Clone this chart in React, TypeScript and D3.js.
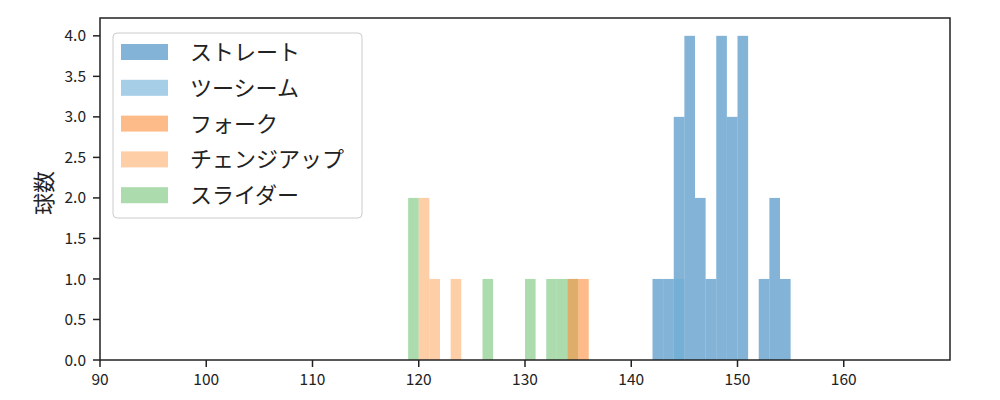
import React from "react";
import * as d3 from "d3";

const seriesNames = ["ストレート", "ツーシーム", "フォーク", "チェンジアップ", "スライダー"];
const seriesColors = ["#3182bd", "#6baed6", "#fd8d3c", "#fdae6b", "#74c476"];

// bin start values (bin width 1) and counts per series
const straightStarts = [142, 143, 144, 145, 146, 147, 148, 149, 150, 152, 153, 154];
const straightCounts = [1, 1, 3, 4, 2, 1, 4, 3, 4, 1, 2, 1];
const twoSeamStarts = [144];
const twoSeamCounts = [1];
const forkStarts = [134, 135];
const forkCounts = [1, 1];
const changeupStarts = [120, 121, 123];
const changeupCounts = [2, 1, 1];
const sliderStarts = [119, 126, 130, 132, 133, 134];
const sliderCounts = [2, 1, 1, 1, 1, 1];

const BIN_WIDTH = 1;
const xTicks = [90, 100, 110, 120, 130, 140, 150, 160];
const yTicks = [0, 0.5, 1, 1.5, 2, 2.5, 3, 3.5, 4];

const W = 1000, H = 400;
const M = { left: 100, right: 950, top: 18, bottom: 360 };
const FONT = "'Noto Sans CJK JP', 'Noto Sans', sans-serif";
const TICK = 7;

export default function App() {
  const x = d3.scaleLinear().domain([90, 170]).range([M.left, M.right]);
  const y = d3.scaleLinear().domain([0, 4.22]).range([M.bottom, M.top]);

  const series = [
    { idx: 0, starts: straightStarts, counts: straightCounts },
    { idx: 1, starts: twoSeamStarts, counts: twoSeamCounts },
    { idx: 4, starts: sliderStarts, counts: sliderCounts },
    { idx: 3, starts: changeupStarts, counts: changeupCounts },
    { idx: 2, starts: forkStarts, counts: forkCounts },
  ];

  const legX = 113, legY = 33, legW = 249, legH = 185;
  const rowH = 35.8;

  return (
    <svg width={W} height={H} style={{ position: "absolute", left: 0, top: 0, background: "#fff" }}>
      <rect x={0} y={0} width={W} height={H} fill="#fff" />
      {series.map((s) =>
        s.starts.map((st, i) => (
          <rect
            key={`${s.idx}-${i}`}
            x={x(st)}
            y={y(s.counts[i])}
            width={x(st + BIN_WIDTH) - x(st)}
            height={y(0) - y(s.counts[i])}
            fill={seriesColors[s.idx]}
            fillOpacity={0.6}
          />
        ))
      )}
      {/* axes frame */}
      <rect
        x={M.left}
        y={M.top}
        width={M.right - M.left}
        height={M.bottom - M.top}
        fill="none"
        stroke="#222"
        strokeWidth={1.5}
      />
      {xTicks.map((t) => (
        <g key={`xt${t}`}>
          <line x1={x(t)} x2={x(t)} y1={M.bottom} y2={M.bottom + TICK} stroke="#222" strokeWidth={1.5} />
          <text x={x(t)} y={M.bottom + 24.5} textAnchor="middle" fontSize={15.5} fontFamily={FONT} fill="#222">
            {t}
          </text>
        </g>
      ))}
      {yTicks.map((t) => (
        <g key={`yt${t}`}>
          <line x1={M.left - TICK} x2={M.left} y1={y(t)} y2={y(t)} stroke="#222" strokeWidth={1.5} />
          <text x={86} y={y(t)} dy="0.36em" textAnchor="end" fontSize={15.5} fontFamily={FONT} fill="#222">
            {t.toFixed(1)}
          </text>
        </g>
      ))}
      <text
        transform={`translate(44, 193) rotate(-90)`}
        textAnchor="middle"
        dy="0.36em"
        fontSize={22}
        fontFamily={FONT}
        fill="#222"
      >
        球数
      </text>
      {/* legend */}
      <rect x={legX} y={legY} width={legW} height={legH} rx={4} fill="#fff" fillOpacity={0.8} stroke="#ccc" strokeWidth={1} />
      {seriesNames.map((n, i) => {
        const cy = 52 + i * rowH;
        return (
          <g key={n}>
            <rect x={121} y={cy - 8} width={47} height={16} fill={seriesColors[i]} fillOpacity={0.6} />
            <text x={190} y={cy} dy="0.36em" fontSize={22} fontFamily={FONT} fill="#222">
              {n}
            </text>
          </g>
        );
      })}
    </svg>
  );
}
